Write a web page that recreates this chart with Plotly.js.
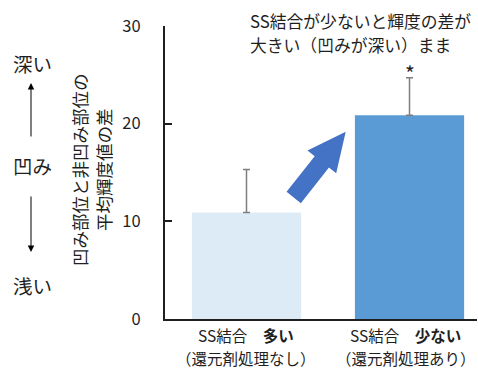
<!DOCTYPE html>
<html>
<head>
<meta charset="utf-8">
<script src="https://cdn.plot.ly/plotly-3.0.1.min.js"></script>
<style>
  html, body { margin: 0; padding: 0; background: #fff; }
  #chart { width: 478px; height: 372px; }
</style>
</head>
<body>
<div id="chart"></div>
<script>
// Mean brightness difference between dented and non-dented regions
const catBond = ['SS結合\u3000<b>多い</b>', 'SS結合\u3000<b>少ない</b>'];
const catTreatment = ['（還元剤処理なし）', '（還元剤処理あり）'];
const meanDiff = [10.9, 20.85];
const errUpper = [4.4, 3.85];
const barColors = ['#DDEBF7', '#5B9BD5'];
const yTicks = [0, 10, 20, 30];
const titleLines = ['SS結合が少ないと輝度の差が', '大きい（凹みが深い）まま'];
const yTitleLines = ['凹み部位と非凹み部位の', '平均輝度値の差'];
const depthLabels = ['深い', '凹み', '浅い'];
const sigMark = '*';

const W = 478, H = 372;
const M = { l: 165, r: 1, t: 26, b: 53 };
const PW = W - M.l - M.r, PH = H - M.t - M.b;
const FONT = '"Noto Sans CJK JP", "Noto Sans", sans-serif';
const INK = '#1f1f1f';

// pixel position -> paper fraction
const px = x => (x - M.l) / PW;
const py = y => (H - M.b - y) / PH;

// Block arrow pointing from the lower bar towards the higher one
function blockArrow(tail, tip, shaftHalf, headHalf, headLen) {
  const dx = tip[0] - tail[0], dy = tip[1] - tail[1];
  const len = Math.hypot(dx, dy);
  const u = [dx / len, dy / len];
  const n = [-u[1], u[0]];
  const base = [tip[0] - u[0] * headLen, tip[1] - u[1] * headLen];
  const p = (c, k) => [c[0] + n[0] * k, c[1] + n[1] * k];
  const pts = [
    p(tail, -shaftHalf), p(base, -shaftHalf), p(base, -headHalf), tip,
    p(base, headHalf), p(base, shaftHalf), p(tail, shaftHalf)
  ];
  return 'M' + pts.map(q => px(q[0]).toFixed(4) + ',' + py(q[1]).toFixed(4)).join(' L') + ' Z';
}

const trace = {
  type: 'bar',
  x: [0, 1],
  y: meanDiff,
  width: 0.67,
  marker: { color: barColors, line: { width: 0 } },
  error_y: {
    type: 'data', symmetric: false, array: errUpper, arrayminus: [0, 0],
    color: '#7F7F7F', thickness: 1.5, width: 3.5
  },
  hoverinfo: 'skip'
};

const annotations = [];
// category labels under each bar, two lines
const catShift = [-1, -4];
[catBond, catTreatment].forEach((lines, row) => lines.forEach((t, i) => annotations.push({
  xref: 'x', yref: 'paper', x: i, xshift: catShift[i], y: py(335 + row * 23),
  xanchor: 'center', yanchor: 'middle', showarrow: false, text: t,
  font: { family: FONT, size: 15.5, color: INK }
})));
// headline
titleLines.forEach((t, i) => annotations.push({
  xref: 'paper', yref: 'paper', x: px(248), y: py(21 + i * 24),
  xanchor: 'left', yanchor: 'middle', showarrow: false, text: t,
  font: { family: FONT, size: 16.8, color: INK }
}));
// significance mark
annotations.push({
  xref: 'x', yref: 'y', x: 1, y: meanDiff[1] + errUpper[1],
  yanchor: 'middle', showarrow: false, text: sigMark, yshift: 5,
  font: { family: FONT, size: 21, color: INK }
});
// rotated y-axis title, two columns
yTitleLines.forEach((t, i) => annotations.push({
  xref: 'paper', yref: 'paper', x: px(79 + i * 24), y: py(170),
  xanchor: 'center', yanchor: 'middle', textangle: -90, showarrow: false, text: t,
  font: { family: FONT, size: 17.5, color: INK }
}));
// depth scale labels
[63, 165, 285].forEach((yy, i) => annotations.push({
  xref: 'paper', yref: 'paper', x: px(32), y: py(yy),
  xanchor: 'center', yanchor: 'middle', showarrow: false, text: depthLabels[i],
  font: { family: FONT, size: 19.5, color: INK }
}));
// up / down arrows of the depth scale
[[83, 55], [252, -57]].forEach(([tipY, off]) => annotations.push({
  xref: 'paper', yref: 'paper', x: px(31), y: py(tipY), text: '',
  showarrow: true, ax: 0, ay: off, arrowhead: 2, arrowsize: 1.3, arrowwidth: 1,
  arrowcolor: '#000', standoff: 0
}));

const layout = {
  width: W, height: H,
  margin: M,
  paper_bgcolor: '#fff', plot_bgcolor: '#fff',
  showlegend: false,
  font: { family: FONT, color: INK },
  xaxis: {
    range: [-0.5, 1.414], tickvals: [0, 1], showticklabels: false,
    showgrid: false, zeroline: false, showline: true,
    linecolor: INK, linewidth: 2, ticks: '', fixedrange: true
  },
  yaxis: {
    range: [0, 30], tickvals: yTicks, ticktext: yTicks.map(String),
    showgrid: false, zeroline: false, showline: true,
    linecolor: INK, linewidth: 2, ticks: 'inside', ticklen: 7, tickwidth: 2,
    tickcolor: INK, ticklabelstandoff: 19,
    tickfont: { family: FONT, size: 16.5, color: INK }, fixedrange: true
  },
  shapes: [{
    type: 'path', xref: 'paper', yref: 'paper',
    path: blockArrow([293.7, 197.5], [345.7, 131.7], 9.1, 18.3, 38.5),
    fillcolor: '#4472C4', line: { width: 0 }
  }],
  annotations: annotations
};

Plotly.newPlot('chart', [trace], layout, { staticPlot: true, displayModeBar: false });
</script>
</body>
</html>
